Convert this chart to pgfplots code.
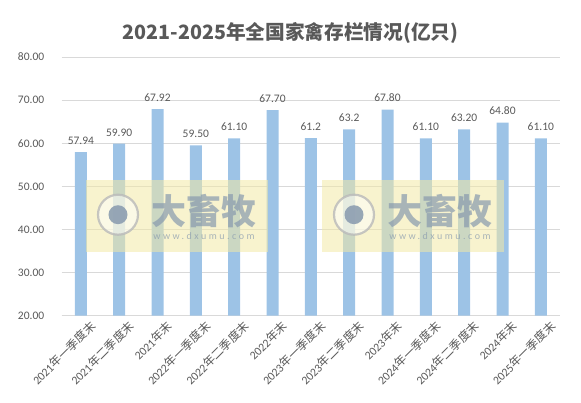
\documentclass[border=0pt]{standalone}
\usepackage{fontspec}
\setmainfont{Carlito}
\newfontfamily\cjk{Noto Sans CJK SC}
\usepackage{pgfplots}
\usepackage{pgfplotstable}
\pgfplotsset{compat=1.18}
\usetikzlibrary{calc}
\definecolor{barblue}{HTML}{9DC3E6}
\definecolor{txtgray}{HTML}{595959}
\definecolor{gridgray}{HTML}{D9D9D9}
\definecolor{wmyellow}{HTML}{F2E9A6}
\definecolor{wmblue}{HTML}{8799AE}

% x, stock (100 million birds), label as printed
\pgfplotstableread{
x y lab
0 57.94 57.94
1 59.90 59.90
2 67.92 67.92
3 59.50 59.50
4 61.10 61.10
5 67.70 67.70
6 61.2 61.2
7 63.2 63.2
8 67.80 67.80
9 61.10 61.10
10 63.20 63.20
11 64.80 64.80
12 61.10 61.10
}\poultry

\newcommand{\wm}[1]{% watermark box, left edge at #1 (pt from plot left)
  \fill[wmyellow,opacity=0.55] (#1,63.7pt) rectangle ++(182pt,72pt);
  \fill[white,opacity=0.5] ($(#1,101pt)+(32pt,0)$) circle (20pt);
  \draw[gray!55,line width=2.2pt,opacity=0.8] ($(#1,101pt)+(32pt,0)$) circle (20pt);
  \fill[wmblue,opacity=0.85] ($(#1,101pt)+(32pt,0)$) circle (9.5pt);
  \node[wmblue,opacity=0.7,font={\cjk\bfseries\fontsize{35}{35}\selectfont}]
    at ($(#1,105pt)+(118pt,0)$) {大畜牧};
  \node[wmblue,opacity=0.7,font={\fontsize{10}{10}\selectfont\addfontfeature{LetterSpace=25}}]
    at ($(#1,80pt)+(118pt,0)$) {www.dxumu.com};
}

\begin{document}
\begin{tikzpicture}
\path[use as bounding box] (-61.7pt,-86.3pt) rectangle (519.3pt,315.7pt);
\begin{axis}[
    at={(0,0)}, anchor=south west,
    scale only axis,
    width=498.3pt, height=258.7pt,
    xmin=-0.5, xmax=12.5,
    ymin=20, ymax=80,
    ytick={20,30,...,80},
    xtick={0,...,12},
    xticklabels={
      2021{\cjk 年一季度末}, 2021{\cjk 年二季度末}, 2021{\cjk 年末},
      2022{\cjk 年一季度末}, 2022{\cjk 年二季度末}, 2022{\cjk 年末},
      2023{\cjk 年一季度末}, 2023{\cjk 年二季度末}, 2023{\cjk 年末},
      2024{\cjk 年一季度末}, 2024{\cjk 年二季度末}, 2024{\cjk 年末},
      2025{\cjk 年一季度末}},
    x tick label style={rotate=45, anchor=north east, font=\fontsize{11.8}{12}\selectfont,
      text=txtgray, inner sep=1pt, xshift=4pt, yshift=-8pt},
    y tick label style={xshift=-14pt, font=\fontsize{11.5}{12}\selectfont, text=txtgray},
    yticklabel style={/pgf/number format/fixed, /pgf/number format/fixed zerofill,
      /pgf/number format/precision=2, /pgf/number format/assume math mode=true},
    major tick length=0pt,
    axis line style={draw=none},
    ymajorgrids,
    grid style={gridgray, line width=0.8pt},
    nodes near coords,
    point meta=explicit symbolic,
    every node near coord/.append style={font=\fontsize{11.5}{12}\selectfont,
      text=txtgray, yshift=4pt},
    clip=false,
]
\draw[gridgray, line width=0.8pt] (rel axis cs:0,0) -- (rel axis cs:1,0);
\addplot[ybar, bar width=12pt, fill=barblue, draw=none] table[x=x, y=y, meta=lab] {\poultry};
\end{axis}
\wm{24.3pt}
\wm{260.3pt}
\node[txtgray, font={\cjk\bfseries\fontsize{19.7}{21}\selectfont}] at (228.8pt,283pt)
  {2021-2025年全国家禽存栏情况(亿只)};
\end{tikzpicture}
\end{document}
